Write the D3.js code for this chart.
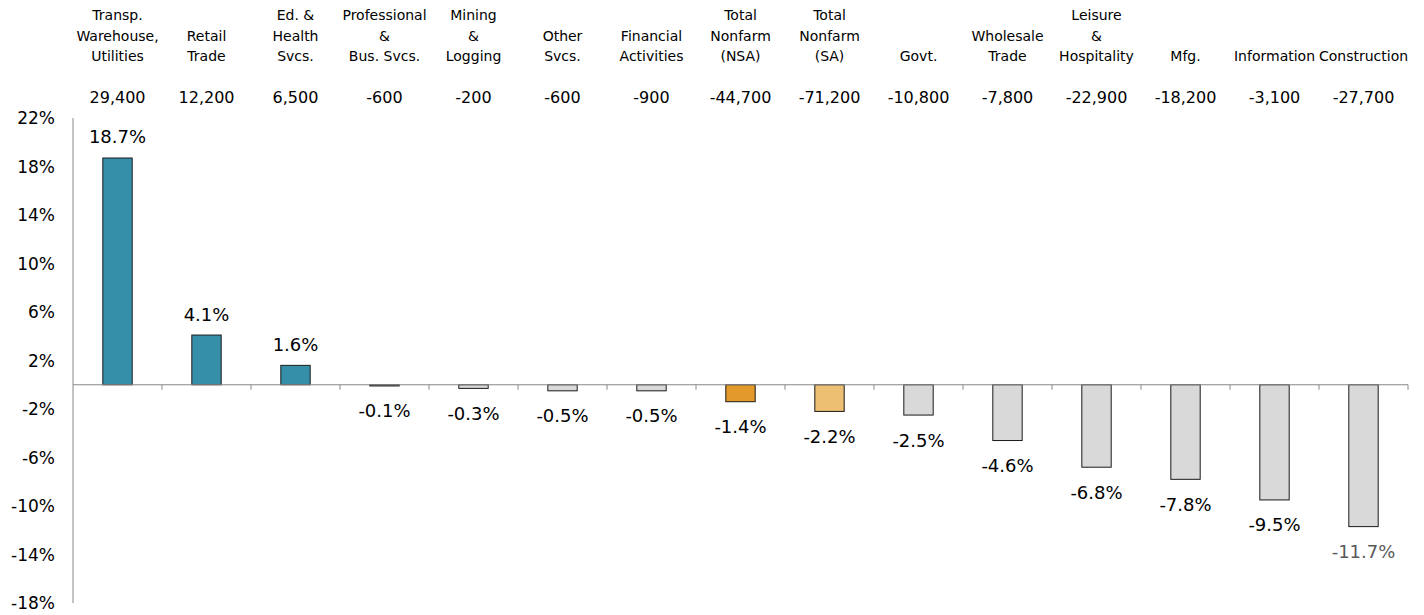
<!DOCTYPE html>
<html>
<head>
<meta charset="utf-8">
<script src="https://cdn.jsdelivr.net/npm/d3@7"></script>
<style>
  html, body { margin: 0; padding: 0; background: #fff; }
  svg { display: block; }
  text { font-family: "DejaVu Sans", sans-serif; fill: #000; }
</style>
</head>
<body>
<svg id="chart" width="1424" height="615"></svg>
<script>
// Industry labels (multi-line), job change and percent change
const categories = [
  ["Transp.", "Warehouse,", "Utilities"],
  ["Retail", "Trade"],
  ["Ed. &", "Health", "Svcs."],
  ["Professional", "&", "Bus. Svcs."],
  ["Mining", "&", "Logging"],
  ["Other", "Svcs."],
  ["Financial", "Activities"],
  ["Total", "Nonfarm", "(NSA)"],
  ["Total", "Nonfarm", "(SA)"],
  ["Govt."],
  ["Wholesale", "Trade"],
  ["Leisure", "&", "Hospitality"],
  ["Mfg."],
  ["Information"],
  ["Construction"]
];
const jobChange = [29400, 12200, 6500, -600, -200, -600, -900, -44700, -71200, -10800, -7800, -22900, -18200, -3100, -27700];
const pctChange = [18.7, 4.1, 1.6, -0.1, -0.3, -0.5, -0.5, -1.4, -2.2, -2.5, -4.6, -6.8, -7.8, -9.5, -11.7];
const groups = ["up", "up", "up", "down", "down", "down", "down", "nsa", "sa", "down", "down", "down", "down", "down", "down"];
const yTicks = [22, 18, 14, 10, 6, 2, -2, -6, -10, -14, -18];

const colorOf = { up: "#368fa8", down: "#d9d9d9", nsa: "#e49a2a", sa: "#edbf72" };

const svg = d3.select("#chart");
const plotLeft = 73, plotRight = 1408, plotTop = 118, plotBottom = 603;

const idx = d3.range(categories.length);
const x = d3.scaleBand().domain(idx).range([plotLeft, plotRight]).paddingInner(0.67).paddingOuter(0.335);
const band = (plotRight - plotLeft) / categories.length;
const y = d3.scaleLinear().domain([-18, 22]).range([plotBottom, plotTop]);
const fmt = v => d3.format(",")(v).replace("\u2212", "-");

// Y axis: line and percent labels only
svg.append("line")
  .attr("x1", plotLeft).attr("x2", plotLeft)
  .attr("y1", plotTop).attr("y2", plotBottom)
  .attr("stroke", "#888").attr("stroke-width", 1);

svg.append("g").selectAll("text").data(yTicks).join("text")
  .attr("x", 55).attr("y", d => y(d))
  .attr("dy", "0.36em")
  .attr("text-anchor", "end")
  .style("font-size", "17px")
  .text(d => d + "%");

// Bars
svg.append("g").selectAll("rect").data(idx).join("rect")
  .attr("x", i => x(i))
  .attr("width", x.bandwidth())
  .attr("y", i => y(Math.max(0, pctChange[i])))
  .attr("height", i => Math.abs(y(pctChange[i]) - y(0)))
  .attr("fill", i => colorOf[groups[i]])
  .attr("stroke", "#1a1a1a")
  .attr("stroke-width", 1);

// Zero baseline with category ticks
svg.append("line")
  .attr("x1", plotLeft).attr("x2", plotRight)
  .attr("y1", y(0)).attr("y2", y(0))
  .attr("stroke", "#888").attr("stroke-width", 1.2);

svg.append("g").selectAll("line").data(d3.range(1, categories.length + 1)).join("line")
  .attr("x1", i => plotLeft + i * band).attr("x2", i => plotLeft + i * band)
  .attr("y1", y(0)).attr("y2", y(0) + 5)
  .attr("stroke", "#888").attr("stroke-width", 1);

// Value labels
svg.append("g").selectAll("text").data(idx).join("text")
  .attr("x", i => x(i) + x.bandwidth() / 2)
  .attr("y", i => pctChange[i] >= 0 ? y(pctChange[i]) - 21 : y(pctChange[i]) + 25)
  .attr("dy", "0.36em")
  .attr("text-anchor", "middle")
  .style("font-size", "18px")
  .style("fill", i => i === categories.length - 1 ? "#595959" : "#000")
  .text(i => pctChange[i].toFixed(1) + "%");

// Header: category names (bottom-aligned) and job changes
const header = svg.append("g").selectAll("g").data(idx).join("g")
  .attr("transform", i => `translate(${x(i) + x.bandwidth() / 2},0)`);

header.each(function(i) {
  const lines = categories[i];
  const g = d3.select(this);
  lines.forEach((t, k) => {
    g.append("text")
      .attr("y", 56 - (lines.length - 1 - k) * 20.5)
      .attr("dy", "0.36em")
      .attr("text-anchor", "middle")
      .style("font-size", "14px")
      .text(t);
  });
  g.append("text")
    .attr("y", 97)
    .attr("dy", "0.36em")
    .attr("text-anchor", "middle")
    .style("font-size", "16px")
    .text(fmt(jobChange[i]));
});
</script>
</body>
</html>
